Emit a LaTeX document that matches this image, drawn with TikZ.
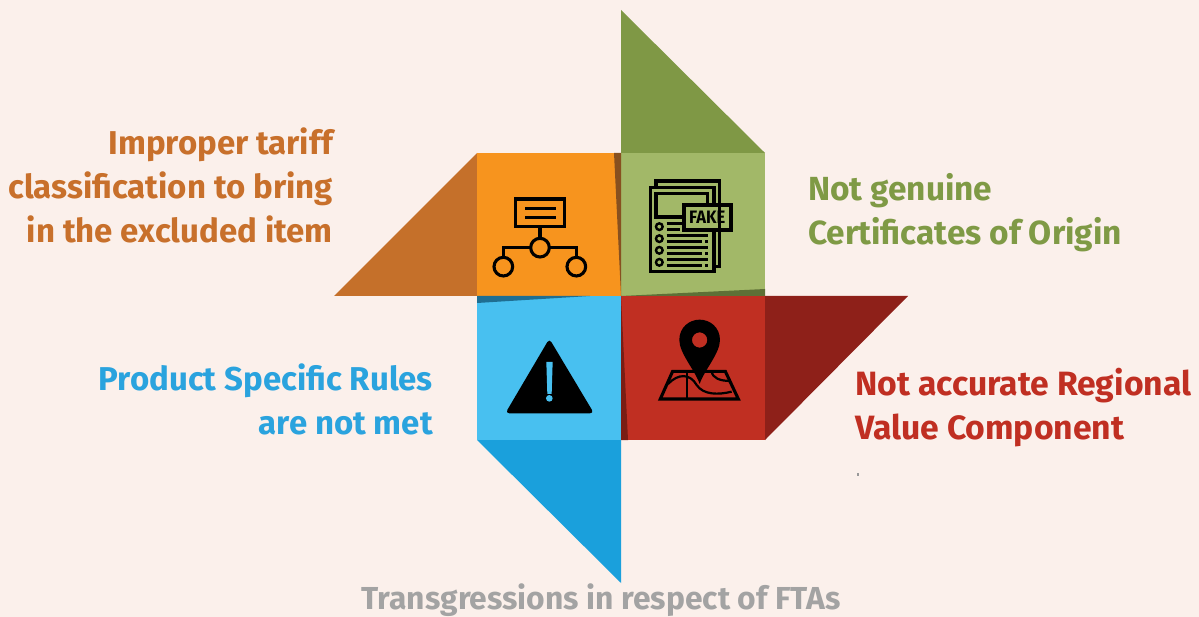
\documentclass[tikz,border=0pt]{standalone}
\usepackage{fontspec}
\setmainfont{Fira Sans}
\definecolor{bgc}{HTML}{FBF0EB}
\definecolor{orgA}{HTML}{F7941E}\definecolor{orgB}{HTML}{C5702A}\definecolor{orgC}{HTML}{87501F}
\definecolor{grnA}{HTML}{A2B868}\definecolor{grnB}{HTML}{7F9845}\definecolor{grnC}{HTML}{5E7036}
\definecolor{bluA}{HTML}{48C0F0}\definecolor{bluB}{HTML}{1AA0DC}\definecolor{bluC}{HTML}{1F6E92}
\definecolor{redA}{HTML}{C02F22}\definecolor{redB}{HTML}{8E2019}\definecolor{redC}{HTML}{7A1D14}
\definecolor{txtO}{HTML}{C8702B}\definecolor{txtG}{HTML}{7F9A45}\definecolor{txtB}{HTML}{2AA3DE}\definecolor{txtR}{HTML}{C02F22}\definecolor{txtK}{HTML}{A3A3A3}
\tikzset{
  label text/.style n args={2}{font=\bfseries\fontsize{#2}{44}\selectfont,inner sep=0pt,align=#1},
  ico/.style={draw=black,line width=#1,fill=none},
  ico/.default=3.1pt
}
\begin{document}
\begin{tikzpicture}[x=1pt,y=-1pt]
\useasboundingbox (0,0) rectangle (1199,617);
\fill[bgc] (0,0) rectangle (1199,617);
% triangles
\fill[grnB] (621,10) -- (765,153) -- (621,153) -- cycle;
\fill[orgB] (477,153) -- (334,296) -- (477,296) -- cycle;
\fill[redB] (765,296) -- (908,296) -- (765,440) -- cycle;
\fill[bluB] (477,440) -- (621,440) -- (621,583) -- cycle;
% squares
\fill[orgA] (477,153) rectangle (621,296);
\fill[grnA] (621,153) rectangle (765,296);
\fill[bluA] (477,296) rectangle (621,440);
\fill[redA] (621,296) rectangle (765,440);
% fold shadows
\fill[orgC] (614,153) -- (621,153) -- (621,296) -- cycle;
\fill[grnC] (621,296) -- (765,289) -- (765,296) -- cycle;
\fill[bluC] (477,296) -- (590,296) -- (477,303) -- cycle;
\fill[redC] (621,296) -- (621,440) -- (628,440) -- cycle;
% icons drawn in zoomed coordinates
\begin{scope}[shift={(470,145)},x=0.3333pt,y=-0.3333pt]
 % org chart
 \draw[ico] (137,162) rectangle (284,245);
 \draw[ico] (165,190) -- (257,190) (165,218) -- (257,218);
 \draw[ico] (210,245) -- (210,281);
 \draw[ico] (210,308) circle (28);
 \draw[ico] (182,308) -- (100,308) -- (100,337);
 \draw[ico] (238,308) -- (319,308) -- (319,337);
 \draw[ico] (100,365) circle (28);
 \draw[ico] (319,365) circle (28);
 % fake document
 \draw[ico] (558,127) -- (558,108) -- (748,108) -- (748,365) -- (732,365);
 \draw[ico] (642,380) -- (732,380) -- (732,255) (732,180) -- (732,127) -- (541,127) -- (541,380) -- (642,380);
 \draw[ico] (642,216) -- (558,216) -- (558,146) -- (713,146) -- (713,180);
 \draw[ico] (642,180) rectangle (783,255);
 \node[inner sep=0pt,font=\bfseries\fontsize{18}{18}\selectfont,xscale=0.92] (fake) at (712,218) {FAKE};
 \foreach \y in {245,281,316,352} \draw[draw=black,line width=2.4pt] (568,\y) circle (10);
 \draw[ico] (590,235) -- (640,235) (590,254) -- (630,254);
 \draw[ico] (590,271) -- (714,271) (590,290) -- (695,290) (590,307) -- (714,307) (590,326) -- (695,326) (590,343) -- (714,343) (590,361) -- (695,361);
 \draw[ico] (706,290) -- (714,290) (706,326) -- (714,326) (706,361) -- (714,361);
\end{scope}
\begin{scope}[shift={(470,290)},x=0.3333pt,y=-0.3333pt]
 % warning triangle
 \fill[black,rounded corners=4pt] (238,146) -- (372,370) -- (106,370) -- cycle;
 \fill[bluA] (229,216) -- (248,216) -- (245,312) -- (232,312) -- cycle;
 \fill[bluA] (238,325) circle (10);
 % map
 \draw[ico] (608,244) -- (766,244) -- (805,327) -- (571,327) -- cycle;
 \draw[draw=black,line width=2.2pt] (594,282) .. controls (625,250) and (660,250) .. (680,285) .. controls (700,315) and (745,315) .. (785,305);
 \draw[draw=black,line width=2.2pt] (652,244) -- (652,327);
 \draw[draw=black,line width=2.2pt] (725,244) .. controls (728,265) and (750,272) .. (778,273);
 % pin
 \fill[black,even odd rule] (689,282) .. controls (675,240) and (628,190) .. (628,150) .. controls (628,112) and (658,89) .. (689,89) .. controls (720,89) and (750,112) .. (750,150) .. controls (750,190) and (703,240) .. (689,282) -- cycle (712,150) arc[start angle=0,end angle=360,radius=23];
\end{scope}
% speck
\fill[black!40] (857,473) rectangle (859,476);
% texts
\node[label text={right}{33},anchor=north east,text=txtO] (t1) at (333,128) {Improper tariff\\classification to bring\\in the excluded item};
\node[label text={left}{33.4},anchor=north west,text=txtG] (t2) at (808,173) {Not genuine\\Certificates of Origin};
\node[label text={right}{33},anchor=north east,text=txtB] (t3) at (433,364) {Product Specific Rules\\are not met};
\node[label text={left}{33.7},anchor=north west,text=txtR] (t4) at (855,368) {Not accurate Regional\\Value Component};
\node[label text={center}{31.8},anchor=base,text=txtK] (t5) at (601,609) {Transgressions in respect of FTAs};
\end{tikzpicture}
\end{document}
